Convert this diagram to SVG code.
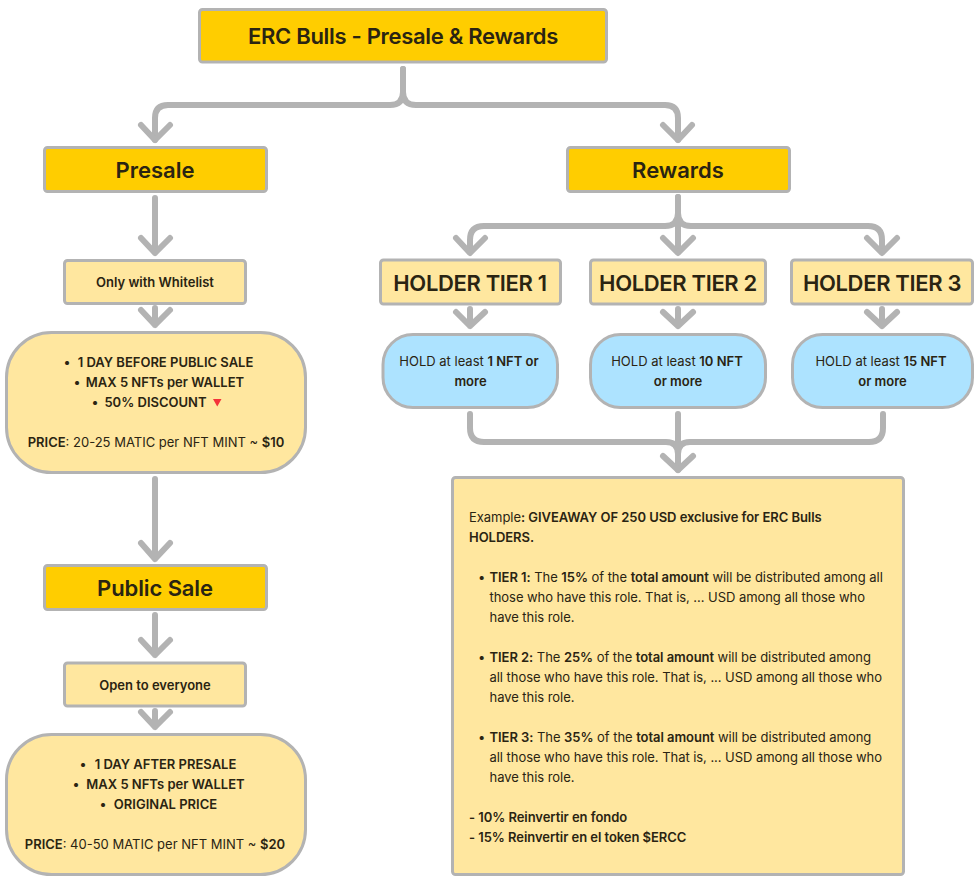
<svg xmlns="http://www.w3.org/2000/svg" width="979" height="885" viewBox="0 0 979 885">
<style>
text{font-family:Inter,"Liberation Sans",sans-serif;fill:#2a2412;text-anchor:middle}
.b{stroke:#b3b3b3;stroke-width:3}
.y{fill:#ffcd00}.l{fill:#ffe79f}.c{fill:#ade3ff}
.t{font-size:22px;font-weight:600}
.h{font-size:22px;font-weight:600;letter-spacing:-.35px}
.s{font-size:13px;font-weight:600}
.p{font-size:13px;font-weight:400}
.w{font-weight:600}
.x{font-size:13px;text-anchor:start;letter-spacing:-.05px}
.con{fill:none;stroke:#b3b3b3;stroke-width:6;stroke-linecap:round;stroke-linejoin:round}
</style>
<g id="connectors" class="con">
<path d="M403 69V92Q403 105 390 105H168Q155 105 155 118V140"/>
<path d="M403 69V92Q403 105 416 105H665Q678 105 678 118V140"/>
<path d="M141 125L155 140L170 125M663 125L678 140L692 125"/>
<path d="M155 198V253M141 238L155 253L170 238"/>
<path d="M155 308V325M141 310L155 325L170 310"/>
<path d="M155 479V559M141 543L155 559L170 543"/>
<path d="M155 615V655M141 640L155 655L170 640"/>
<path d="M155 711V727M141 712L155 727L170 712"/>
<path d="M678 197V252"/>
<path d="M678 197V213Q678 226 665 226H484Q470 226 470 240V252M678 197V213Q678 226 691 226H868Q882 226 882 240V252"/>
<path d="M456 238L470 253L485 238M663 238L678 253L693 238M867 238L882 253L897 238"/>
<path d="M470 309V326M456 312L470 326L485 312"/>
<path d="M678 309V326M663 312L678 326L693 312"/>
<path d="M882 309V326M867 312L882 326L897 312"/>
<path d="M470 414V428Q470 442 484 442H666Q678 442 678 454V470M678 414V470M883 414V428Q883 442 869 442H690Q678 442 678 454"/>
<path d="M663 456L678 470L693 456"/>
</g>
<g id="title"><rect class="b y" x="199.500" y="9.500" width="407" height="52.500" rx="3"/><text class="t" x="403" y="44" letter-spacing="-.3">ERC Bulls - Presale &amp; Rewards</text></g>
<g id="presale"><rect class="b y" x="44.500" y="147.500" width="222" height="44" rx="3"/><text class="t" x="155" y="178">Presale</text></g>
<g id="rewards"><rect class="b y" x="567.500" y="147.500" width="222" height="44" rx="3"/><text class="t" x="678" y="178">Rewards</text></g>
<g id="whitelist"><rect class="b l" x="64.500" y="260.500" width="181" height="43" rx="3"/><text class="s" x="155" y="287">Only with Whitelist</text></g>
<g id="presale-details"><rect class="b l" x="6.500" y="332.500" width="299" height="140" rx="45"/>
<text class="s" x="67" y="367">•</text><text class="s" x="165.500" y="367">1 DAY BEFORE PUBLIC SALE</text>
<text class="s" x="77" y="387">•</text><text class="s" x="165" y="387">MAX 5 NFTs per WALLET</text>
<text class="s" x="95" y="407">•</text><text class="s" x="155.500" y="407">50% DISCOUNT</text>
<path d="M213 399h8.500l-4.250 7.500z" fill="#f4333a"/>
<text class="p" x="156" y="447"><tspan class="w">PRICE</tspan>: 20-25 MATIC per NFT MINT ~ <tspan class="w">$10</tspan></text></g>
<g id="public-sale"><rect class="b y" x="44.500" y="565.500" width="222" height="44" rx="3"/><text class="t" x="155" y="596" letter-spacing="-.1">Public Sale</text></g>
<g id="open"><rect class="b l" x="64.500" y="663" width="181" height="43" rx="3"/><text class="s" x="155" y="690">Open to everyone</text></g>
<g id="public-details"><rect class="b l" x="6.500" y="734.500" width="299" height="140" rx="45"/>
<text class="s" x="83" y="769">•</text><text class="s" x="165.500" y="769">1 DAY AFTER PRESALE</text>
<text class="s" x="76" y="789">•</text><text class="s" x="165.500" y="789">MAX 5 NFTs per WALLET</text>
<text class="s" x="103" y="809">•</text><text class="s" x="165.500" y="809">ORIGINAL PRICE</text>
<text class="p" x="155" y="849"><tspan class="w">PRICE</tspan>: 40-50 MATIC per NFT MINT ~ <tspan class="w">$20</tspan></text></g>
<g id="tier1"><rect class="b l" x="380.500" y="260" width="180" height="44" rx="3"/><text class="h" x="470" y="291">HOLDER TIER 1</text></g>
<g id="tier2"><rect class="b l" x="590.500" y="260" width="175" height="44" rx="3"/><text class="h" x="678" y="291">HOLDER TIER 2</text></g>
<g id="tier3"><rect class="b l" x="791.500" y="260" width="181" height="44" rx="3"/><text class="h" x="882" y="291">HOLDER TIER 3</text></g>
<g id="hold1"><rect class="b c" x="383" y="334.500" width="174.500" height="73" rx="30"/><text class="p" x="469" y="366">HOLD at least <tspan class="w">1 NFT or</tspan></text><text class="p w" x="470.500" y="386">more</text></g>
<g id="hold2"><rect class="b c" x="590.500" y="334.500" width="175" height="73" rx="30"/><text class="p" x="677" y="366">HOLD at least <tspan class="w">10 NFT</tspan></text><text class="p w" x="678" y="386">or more</text></g>
<g id="hold3"><rect class="b c" x="792.500" y="334.500" width="180" height="73" rx="30"/><text class="p" x="881" y="366">HOLD at least <tspan class="w">15 NFT</tspan></text><text class="p w" x="882.500" y="386">or more</text></g>
<g id="example"><rect class="b l" x="452.500" y="477.500" width="451" height="397" rx="3"/>
<text class="x" x="469" y="522">Example<tspan class="w">: GIVEAWAY OF 250 USD exclusive for ERC Bulls</tspan></text>
<text class="x w" x="469" y="542">HOLDERS.</text>
<text class="x" x="478" y="582">•</text>
<text class="x" x="489.500" y="582"><tspan class="w">TIER 1:</tspan> The <tspan class="w">15%</tspan> of the <tspan class="w">total amount</tspan> will be distributed among all</text>
<text class="x" x="489.500" y="602">those who have this role. That is, ... USD among all those who</text>
<text class="x" x="489.500" y="622">have this role.</text>
<text class="x" x="478" y="662">•</text>
<text class="x" x="489.500" y="662"><tspan class="w">TIER 2:</tspan> The <tspan class="w">25%</tspan> of the <tspan class="w">total amount</tspan> will be distributed among</text>
<text class="x" x="489.500" y="682">all those who have this role. That is, ... USD among all those who</text>
<text class="x" x="489.500" y="702">have this role.</text>
<text class="x" x="478" y="742">•</text>
<text class="x" x="489.500" y="742"><tspan class="w">TIER 3:</tspan> The <tspan class="w">35%</tspan> of the <tspan class="w">total amount</tspan> will be distributed among</text>
<text class="x" x="489.500" y="762">all those who have this role. That is, ... USD among all those who</text>
<text class="x" x="489.500" y="782">have this role.</text>
<text class="x w" x="469" y="822">- 10% Reinvertir en fondo</text>
<text class="x w" x="469" y="842">- 15% Reinvertir en el token $ERCC</text>
</g>
</svg>
